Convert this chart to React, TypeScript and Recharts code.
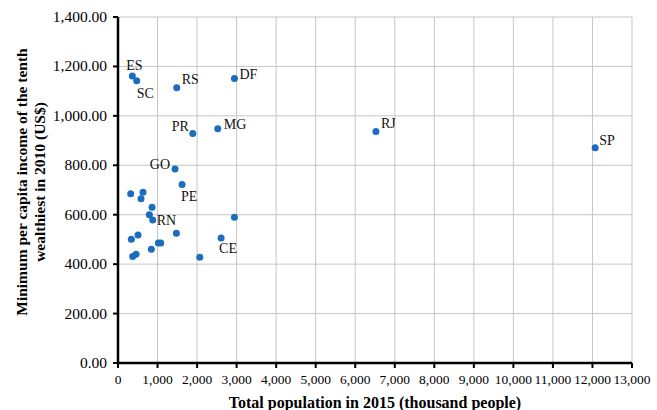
import { CartesianGrid, Label, Scatter, ScatterChart, XAxis, YAxis } from "recharts";

const stateLabels = [
  "ES", "SC", "RS", "DF", "PR", "MG", "GO", "PE", "RJ", "SP", "RN", "CE",
  "", "", "", "", "", "", "", "", "", "", "", "", "", "", "",
];
const population = [
  362, 473, 1485, 2945, 1891, 2523, 1443, 1620, 6523, 12068, 878, 2608,
  321, 633, 582, 861, 793, 2945, 1477, 506, 337, 1021, 1081, 843, 456, 372, 2068,
];
const income = [
  1161, 1142, 1114, 1151, 929, 948, 785, 722, 937, 871, 579, 506,
  685, 691, 665, 630, 600, 590, 525, 518, 501, 486, 486, 460, 440, 431, 428,
];
const xTicks = [0, 1000, 2000, 3000, 4000, 5000, 6000, 7000, 8000, 9000, 10000, 11000, 12000, 13000];
const yTicks = [0, 200, 400, 600, 800, 1000, 1200, 1400];

const data = population.map((x, i) => ({ x, y: income[i], label: stateLabels[i] }));

// where each state tag sits relative to its dot
const labelOffset: Record<string, { dx: number; dy: number; anchor?: string }> = {
  ES: { dx: -6, dy: -6 },
  SC: { dx: 0, dy: 17 },
  RS: { dx: 5, dy: -4 },
  DF: { dx: 5, dy: 0 },
  PR: { dx: -4, dy: -2, anchor: "end" },
  MG: { dx: 6, dy: 0 },
  GO: { dx: -5, dy: 0, anchor: "end" },
  PE: { dx: -1, dy: 16 },
  RN: { dx: 4, dy: 5 },
  CE: { dx: -2, dy: 15 },
  RJ: { dx: 5, dy: -3 },
  SP: { dx: 4, dy: -3 },
};

const FONT = "'Liberation Serif', 'Times New Roman', serif";
const DOT = "#1a6ebd";

function Dot(props: any) {
  const { cx, cy, payload } = props;
  const off = labelOffset[payload.label];
  return (
    <g>
      <circle cx={cx} cy={cy} r={3.5} fill={DOT} />
      {off && (
        <text
          x={cx + off.dx}
          y={cy + off.dy}
          textAnchor={off.anchor ?? "start"}
          fontFamily={FONT}
          fontSize={14}
          fill="#111"
        >
          {payload.label}
        </text>
      )}
    </g>
  );
}

function XTick(props: any) {
  const { x, y, payload } = props;
  return (
    <text x={x} y={y + 12} textAnchor="middle" fontFamily={FONT} fontSize={13.5} fill="#000">
      {Number(payload.value).toLocaleString("en-US")}
    </text>
  );
}

function YTick(props: any) {
  const { x, y, payload } = props;
  return (
    <text x={x} y={y + 5} textAnchor="end" fontFamily={FONT} fontSize={15.5} fill="#000">
      {Number(payload.value).toLocaleString("en-US", { minimumFractionDigits: 2, maximumFractionDigits: 2 })}
    </text>
  );
}

function YTitle(props: any) {
  const { viewBox } = props;
  const cy = viewBox.y + viewBox.height / 2 - 8;
  return (
    <g fontFamily={FONT} fontSize={15.5} fontWeight="bold" fill="#000" textAnchor="middle">
      <text transform={`translate(27, ${cy}) rotate(-90)`}>Minimum per capita income of the tenth</text>
      <text transform={`translate(45, ${cy}) rotate(-90)`}>wealthiest in 2010 (US$)</text>
    </g>
  );
}

export default function App() {
  return (
    <div style={{ position: "absolute", left: 0, top: 0, background: "#fff", fontFamily: FONT }}>
      <ScatterChart width={657} height={410} margin={{ top: 17, right: 25, bottom: 0, left: 0 }}>
        <CartesianGrid stroke="#c6c6c6" />
        <XAxis
          type="number"
          dataKey="x"
          domain={[0, 13000]}
          ticks={xTicks}
          interval={0}
          height={47}
          tick={XTick}
          tickSize={5}
          tickMargin={4}
          axisLine={{ stroke: "#000", strokeWidth: 2.5 }}
          tickLine={{ stroke: "#000", strokeWidth: 2 }}
        >
          <Label
            value="Total population in 2015 (thousand people)"
            position="insideBottom"
            offset={2}
            style={{ fontFamily: FONT, fontSize: 16, fontWeight: "bold", fill: "#000" }}
          />
        </XAxis>
        <YAxis
          type="number"
          dataKey="y"
          domain={[0, 1400]}
          ticks={yTicks}
          interval={0}
          width={118}
          tick={YTick}
          tickSize={5}
          tickMargin={6}
          axisLine={{ stroke: "#000", strokeWidth: 2.5 }}
          tickLine={{ stroke: "#000", strokeWidth: 2 }}
        >
          <Label content={YTitle} />
        </YAxis>
        <Scatter data={data} shape={Dot} isAnimationActive={false} />
      </ScatterChart>
    </div>
  );
}
